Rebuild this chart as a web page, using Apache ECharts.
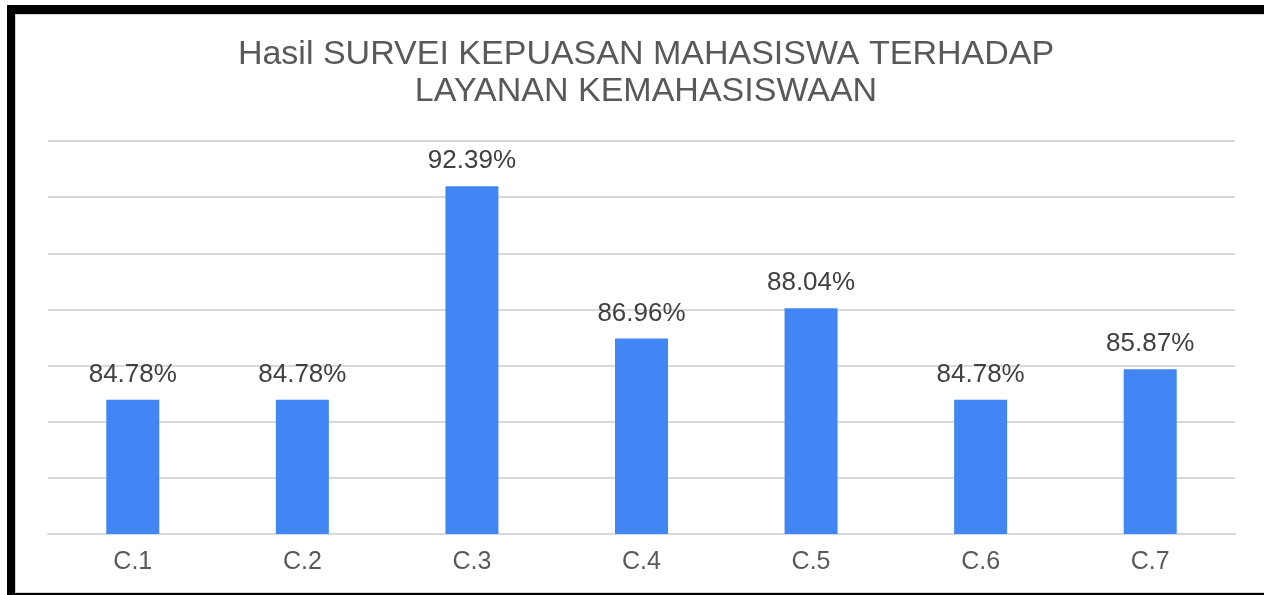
<!DOCTYPE html>
<html>
<head>
<meta charset="utf-8">
<script src="https://cdn.jsdelivr.net/npm/echarts@6/dist/echarts.min.js"></script>
<style>
html, body { margin: 0; padding: 0; background: #fff; }
#chart { position: absolute; left: 0; top: 0; width: 1264px; height: 595px; }
#frame {
	position: absolute; left: 7px; top: 5px; width: 1270px; height: 579px;
	border-left: 8px solid #000; border-top: 9px solid #000; border-bottom: 2px solid #000;
	pointer-events: none;
}
#frame div { position: absolute; left: 0; top: 0; right: 0; bottom: 0; border: 1px solid #d4d4d4; }
</style>
</head>
<body>
<div id="chart"></div>
<div id="frame"><div></div></div>
<script>
// data
var categories = ['C.1', 'C.2', 'C.3', 'C.4', 'C.5', 'C.6', 'C.7'];
var values = [84.78, 84.78, 92.39, 86.96, 88.04, 84.78, 85.87];
var titleText = 'Hasil SURVEI KEPUASAN MAHASISWA TERHADAP\nLAYANAN KEMAHASISWAAN';

var fontName = '"Liberation Sans", Arial, sans-serif';

var myChart = echarts.init(document.getElementById('chart'));

var option = {
	animation: false,
	backgroundColor: '#fff',
	title: {
		text: titleText,
		left: 641,
		top: 31,
		textAlign: 'center',
		textStyle: {
			fontFamily: fontName,
			fontSize: 34,
			fontWeight: 'normal',
			color: '#595959',
			lineHeight: 37
		}
	},
	grid: {//chart area
		left: 48,
		right: 29,
		top: 141,
		bottom: 61,
		containLabel: false
	},
	xAxis: {
		type: 'category',
		data: categories,
		axisLine: { show: true, lineStyle: { color: '#d9d9d9', width: 2 } },
		axisTick: { show: false },
		axisLabel: {
			margin: 16,
			fontFamily: fontName,
			fontSize: 25,
			color: '#595959'
		}
	},
	yAxis: {
		type: 'value',
		min: 80,
		max: 94,
		interval: 2,
		axisLabel: { show: false },
		axisLine: { show: false },
		axisTick: { show: false },
		splitLine: { lineStyle: { color: '#d9d9d9', width: 2 } }
	},
	series: [
		{
			name: 'Hasil',
			type: 'bar',
			data: values,
			barWidth: 53,
			itemStyle: { color: '#4285F4' },
			label: {
				show: true,
				position: 'top',
				distance: 12,
				formatter: '{c}%',
				fontFamily: fontName,
				fontSize: 26,
				color: '#404040'
			}
		}
	]
};

myChart.setOption(option);
</script>
</body>
</html>
